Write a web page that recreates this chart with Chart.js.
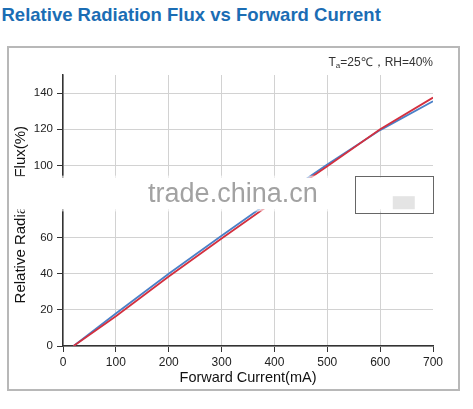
<!DOCTYPE html>
<html>
<head>
<meta charset="utf-8">
<script src="https://cdn.jsdelivr.net/npm/chart.js@4"></script>
<style>
  body { margin: 0; background: #fff; width: 473px; height: 409px; position: relative; overflow: hidden; font-family: "Liberation Sans", Arial, sans-serif; }
  #title { position: absolute; left: 1.5px; top: 6px; font-size: 18.5px; line-height: 18.5px; font-weight: bold; color: #1b6db4; white-space: nowrap; }
  #box { position: absolute; left: 7px; top: 46px; width: 453px; height: 345px; box-sizing: border-box; border: 2px solid #b8b8b8; }
  #box canvas { display: block; }
</style>
</head>
<body>
<div id="title">Relative Radiation Flux vs Forward Current</div>
<div id="box"><canvas id="chart" width="449" height="341"></canvas></div>
<script>
// --- data ---
const currents = [20, 100, 200, 300, 375, 460, 500, 600, 700];   // mA
const fluxRed  = [0, 16.5, 38.5, 59.5, 75, 91.5, 99.5, 120, 137.5];
const fluxBlue = [0, 18, 40, 61, 76.5, 92.5, 100.5, 119.5, 135.5];
const xTicks = [0, 100, 200, 300, 400, 500, 600, 700];
const yTicks = [0, 20, 40, 60, 80, 100, 120, 140];
const noteText = ['T', 'a', '=25\u2103\uFF0CRH=40%'];
const watermark = 'trade.china.cn';

const FONT = '"Liberation Sans", Arial, sans-serif';

function pts(ys) { return currents.map((x, i) => ({ x: x, y: ys[i] })); }

// condition note + the watermark band that sits over the picture
const extras = {
  id: 'extras',
  afterDraw(chart) {
    const { ctx, chartArea: a, scales: { x, y } } = chart;
    ctx.save();

    // note at top right, "a" as subscript
    ctx.fillStyle = '#333';
    ctx.textBaseline = 'alphabetic';
    const big = '12px ' + FONT, small = '8px ' + FONT;
    ctx.font = big;  const w1 = ctx.measureText(noteText[0]).width, w3 = ctx.measureText(noteText[2]).width;
    ctx.font = small; const w2 = ctx.measureText(noteText[1]).width;
    let nx = a.right - (w1 + w2 + w3), ny = 18;
    ctx.font = big;  ctx.fillText(noteText[0], nx, ny); nx += w1;
    ctx.font = small; ctx.fillText(noteText[1], nx, ny + 2); nx += w2;
    ctx.font = big;  ctx.fillText(noteText[2], nx, ny);

    // white band, solid core with soft edges
    const bt = y.getPixelForValue(93.2), bb = y.getPixelForValue(75.6);
    ctx.fillStyle = '#fff';
    ctx.fillRect(0, bt, chart.width, bb - bt);
    ctx.fillStyle = 'rgba(255,255,255,0.6)';
    ctx.fillRect(0, bt - 2, chart.width, 2);
    ctx.fillRect(0, bb, chart.width, 2);

    // half-hidden legend frame
    const lx = x.getPixelForValue(552), lr = x.getPixelForValue(700);
    const lt = y.getPixelForValue(94), lb = y.getPixelForValue(73.5);
    ctx.strokeStyle = '#666'; ctx.lineWidth = 1;
    ctx.strokeRect(Math.round(lx) + 0.5, Math.round(lt) + 0.5, Math.round(lr - lx), Math.round(lb - lt));
    ctx.fillStyle = '#e4e4e4';
    ctx.fillRect(lx + 38, lb - 17, 22, 13);

    // watermark text
    ctx.fillStyle = '#a2a2a2';
    ctx.font = '27px ' + FONT;
    ctx.textAlign = 'left';
    ctx.fillText(watermark, x.getPixelForValue(161), y.getPixelForValue(79.5));
    ctx.restore();
  }
};

new Chart(document.getElementById('chart'), {
  type: 'line',
  data: {
    datasets: [
      { data: pts(fluxRed), borderColor: '#d3303f', borderWidth: 1.8, pointRadius: 0, tension: 0, fill: false },
      { data: pts(fluxBlue), borderColor: '#4a80c8', borderWidth: 1.8, pointRadius: 0, tension: 0, fill: false }
    ]
  },
  options: {
    responsive: false,
    animation: false,
    events: [],
    layout: { padding: { top: 27, right: 25, left: 0, bottom: 0 } },
    plugins: { legend: { display: false }, tooltip: { enabled: false }, title: { display: false } },
    scales: {
      x: {
        type: 'linear', min: 0, max: 700,
        afterBuildTicks: s => { s.ticks = xTicks.map(v => ({ value: v })); },
        afterFit: s => { s.height = 43; },
        grid: {
          color: c => (c.tick && c.tick.value === 700) ? 'rgba(0,0,0,0)' : '#d2d2d2',
          lineWidth: 1, tickLength: 6, tickColor: '#333'
        },
        border: { color: '#333', width: 1.5 },
        ticks: { color: '#222', font: { family: FONT, size: 12 }, padding: 3, maxRotation: 0 },
        title: { display: true, text: 'Forward Current(mA)', color: '#111', font: { family: FONT, size: 14.5 }, padding: { top: 0, bottom: 2 } }
      },
      y: {
        type: 'linear', min: 0, max: 150,
        afterBuildTicks: s => { s.ticks = yTicks.map(v => ({ value: v })); },
        afterFit: s => { s.width = 54; },
        grid: { color: '#d2d2d2', lineWidth: 1, tickLength: 6, tickColor: '#333' },
        border: { color: '#333', width: 1.5 },
        ticks: { color: '#222', font: { family: FONT, size: 11.5 }, padding: 4 },
        title: { display: true, text: 'Relative Radiation Flux(%)  ', color: '#111', font: { family: FONT, size: 15 }, padding: { top: 3, bottom: 0 } }
      }
    }
  },
  plugins: [extras]
});
</script>
</body>
</html>
